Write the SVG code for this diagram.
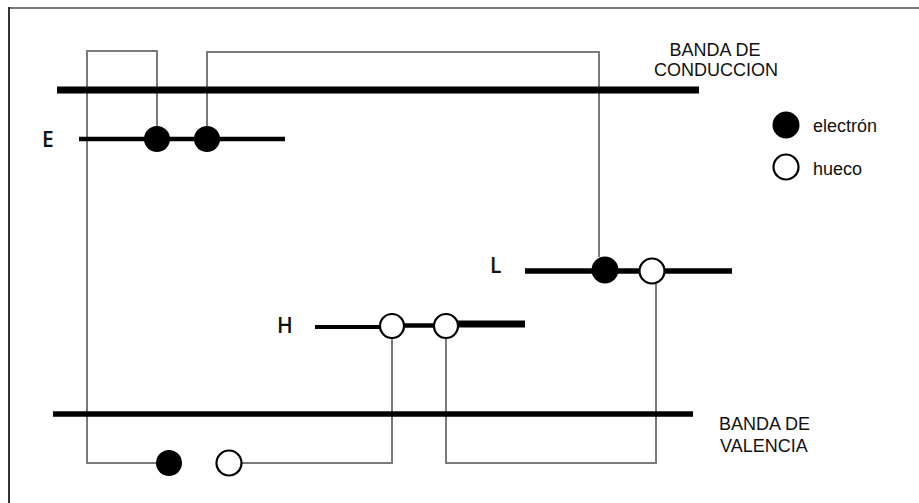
<svg xmlns="http://www.w3.org/2000/svg" width="919" height="503" viewBox="0 0 919 503">
<style>
.conn{fill:none;stroke:#7a7a7a;stroke-width:2}
.band{stroke:#000;fill:none}
.el{fill:#000}
.ho{fill:#fff;stroke:#000;stroke-width:2.2}
.lbl{font-family:"Liberation Sans",Arial,sans-serif;font-size:18px;fill:#111}
.lv{font-family:"Open Sans","Noto Sans",sans-serif;font-weight:600;font-size:21px;fill:#111}
</style>
<rect width="919" height="503" fill="#fff"/>
<g id="frame">
<line x1="9" y1="8" x2="919" y2="8" stroke="#777" stroke-width="2"/>
<line x1="9" y1="7" x2="9" y2="503" stroke="#333" stroke-width="2"/>
</g>
<g id="connectors">
<path class="conn" d="M156,463 H87 V51 H157 V126"/>
<path class="conn" d="M207,126 V52 H599 V257"/>
<path class="conn" d="M242,463 H392 V338"/>
<path class="conn" d="M446,338 V463 H656 V284"/>
</g>
<g id="conduction-band">
<line class="band" x1="57" y1="90" x2="699" y2="90" stroke-width="7"/>
<text class="lbl" x="715" y="56" text-anchor="middle">BANDA DE</text>
<text class="lbl" x="716" y="76" text-anchor="middle">CONDUCCION</text>
</g>
<g id="valence-band">
<line class="band" x1="53" y1="414" x2="693" y2="414" stroke-width="5.5"/>
<text class="lbl" x="719" y="430">BANDA DE</text>
<text class="lbl" x="720" y="452">VALENCIA</text>
</g>
<g id="level-E">
<line class="band" x1="79" y1="139" x2="285" y2="139" stroke-width="4.5"/>
<circle class="el" cx="157" cy="139" r="13"/>
<circle class="el" cx="207" cy="139" r="13"/>
<text class="lv" x="42" y="147">E</text>
</g>
<g id="level-L">
<line class="band" x1="525" y1="271" x2="732" y2="271" stroke-width="5.5"/>
<circle class="el" cx="605" cy="270" r="13.5"/>
<circle class="ho" cx="652" cy="271" r="12.5"/>
<text class="lv" x="490" y="273">L</text>
</g>
<g id="level-H">
<line class="band" x1="315" y1="327" x2="392" y2="327" stroke-width="4"/>
<line class="band" x1="392" y1="325.5" x2="446" y2="325.5" stroke-width="4.5"/>
<line class="band" x1="446" y1="324" x2="525" y2="324" stroke-width="7"/>
<circle class="ho" cx="392" cy="326" r="12"/>
<circle class="ho" cx="446" cy="326" r="12"/>
<text class="lv" x="277" y="333">H</text>
</g>
<g id="valence-carriers">
<circle class="el" cx="169" cy="463" r="13"/>
<circle class="ho" cx="229" cy="463" r="12.5"/>
</g>
<g id="legend">
<circle class="el" cx="786" cy="125" r="13.5"/>
<text class="lbl" x="813" y="132">electrón</text>
<circle class="ho" cx="786" cy="167" r="12.5"/>
<text class="lbl" x="813" y="175">hueco</text>
</g>
</svg>
